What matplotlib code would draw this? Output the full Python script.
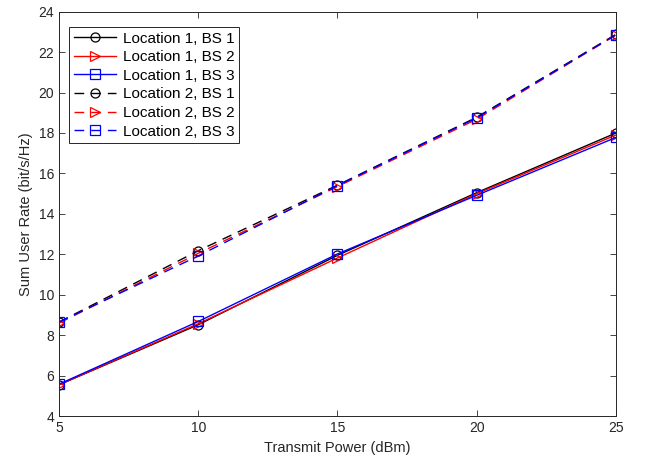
import matplotlib
matplotlib.use('Agg')
import matplotlib.pyplot as plt

plt.rcParams['font.family'] = ['Liberation Sans', 'DejaVu Sans']

power = [5, 10, 15, 20, 25]

loc1_bs1 = [5.55, 8.52, 11.95, 15.05, 18.0]
loc1_bs2 = [5.55, 8.57, 11.82, 15.0, 17.9]
loc1_bs3 = [5.58, 8.68, 12.02, 14.92, 17.78]

loc2_bs1 = [8.65, 12.18, 15.42, 18.78, 22.88]
loc2_bs2 = [8.6, 12.05, 15.35, 18.68, 22.85]
loc2_bs3 = [8.65, 11.92, 15.4, 18.75, 22.85]

labels = ['Location 1, BS 1', 'Location 1, BS 2', 'Location 1, BS 3',
          'Location 2, BS 1', 'Location 2, BS 2', 'Location 2, BS 3']

fig = plt.figure(figsize=(6.45, 4.66), dpi=100)
ax = fig.add_axes([0.0915, 0.107, 0.8635, 0.868])

dash = (0, (7, 5))
series = [
    (loc1_bs1, 'k', 'o', '-'),
    (loc1_bs2, 'r', '>', '-'),
    (loc1_bs3, 'b', 's', '-'),
    (loc2_bs1, 'k', 'o', dash),
    (loc2_bs2, 'r', '>', dash),
    (loc2_bs3, 'b', 's', dash),
]
for (vals, col, mk, ls), lab in zip(series, labels):
    ax.plot(power, vals, color=col, marker=mk, linestyle=ls, lw=1.0,
            markersize=6.5, markerfacecolor='none', markeredgewidth=0.9, label=lab)

ax.set_xlim(5, 25)
ax.set_ylim(4, 24)
ax.set_xticks([5, 10, 15, 20, 25])
ax.set_yticks(range(4, 25, 2))
ax.tick_params(direction='in', top=True, right=True, labelsize=10,
               colors='#262626', length=4, width=0.6)
for s in ax.spines.values():
    s.set_color('#262626')
    s.set_linewidth(0.7)
ax.set_xlabel('Transmit Power (dBm)', fontsize=10.5, color='#262626')
ax.set_ylabel('Sum User Rate (bit/s/Hz)', fontsize=10.5, color='#262626')

leg = ax.legend(loc='upper left', bbox_to_anchor=(0.018, 0.962), borderaxespad=0,
                fontsize=11, fancybox=False, framealpha=1,
                edgecolor='#262626', handlelength=2.8,
                labelspacing=0.3, handletextpad=0.4, borderpad=0.3)
leg.get_frame().set_linewidth(0.7)

fig.savefig('out.png', dpi=100)
